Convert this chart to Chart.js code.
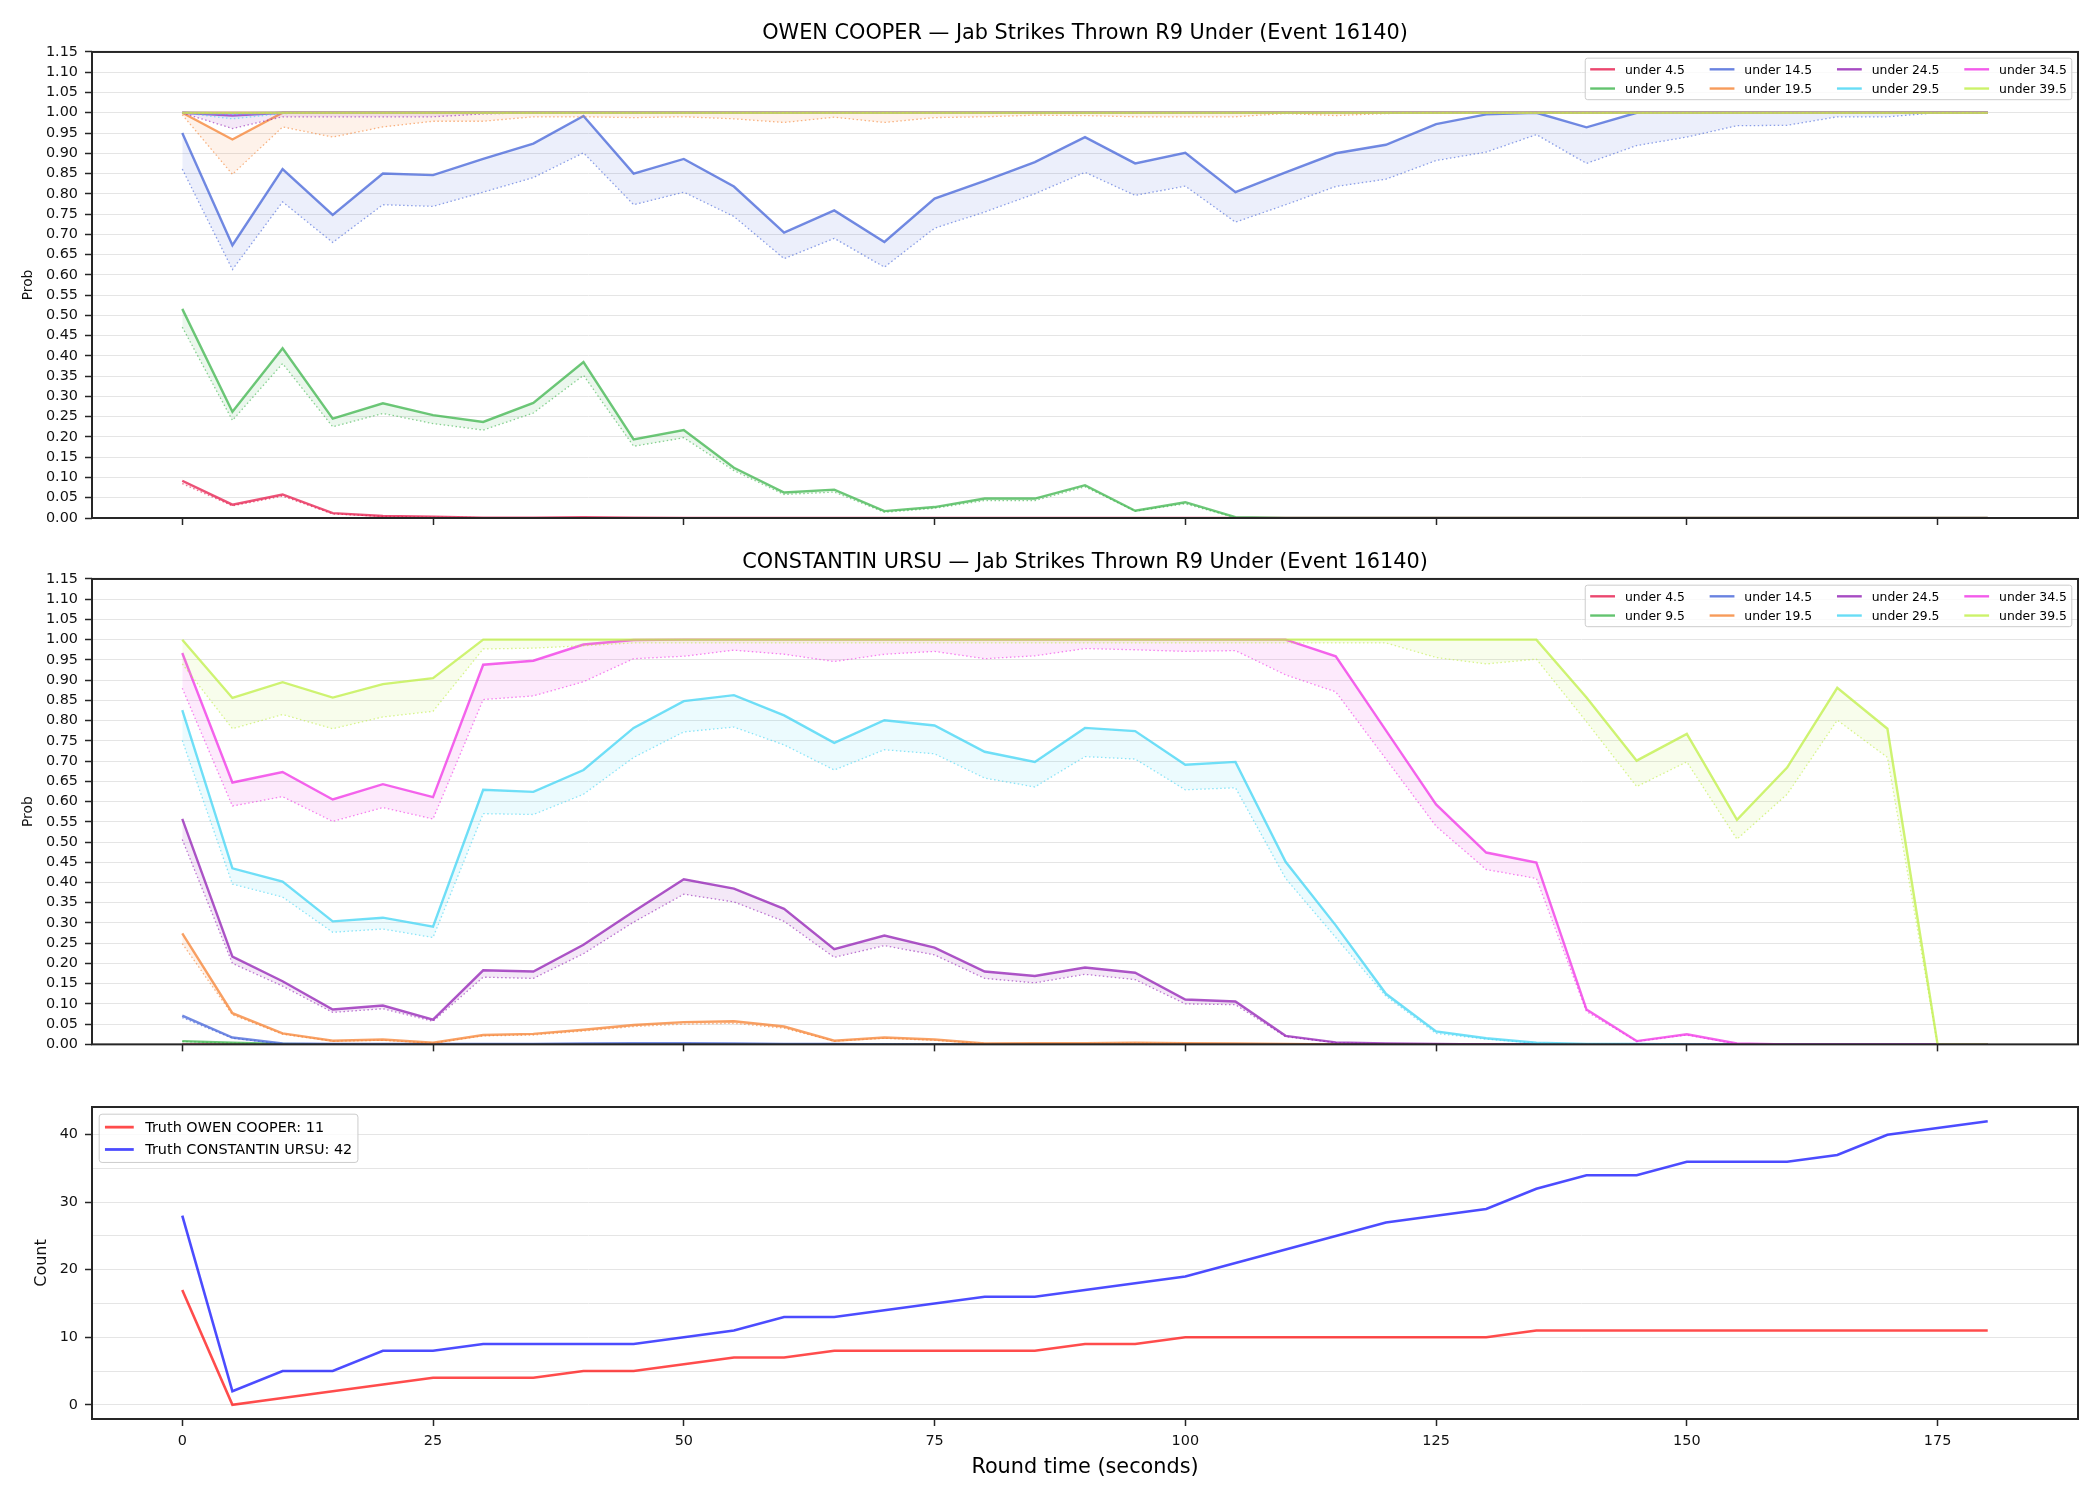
<!DOCTYPE html>
<html>
<head>
<meta charset="utf-8">
<script src="https://cdn.jsdelivr.net/npm/chart.js@4.4.1/dist/chart.umd.min.js"></script>
<style>
  body { margin: 0; background: #fff; }
  #wrap { position: relative; width: 2100px; height: 1500px; }
  canvas { position: absolute; left: 0; }
</style>
</head>
<body>
<div id="wrap">
  <canvas id="owen" width="2100" height="540" style="top:0px"></canvas>
  <canvas id="ursu" width="2100" height="520" style="top:540px"></canvas>
  <canvas id="truth" width="2100" height="440" style="top:1060px"></canvas>
</div>
<script>
let seconds = [0,5,10,15,20,25,30,35,40,45, 50,55,60,65,70,75,80,85,90,95,
  100,105,110,115,120,125,130,135,140,145, 150,155,160,165,170,175,180];
let xTicks = [0,25,50,75,100,125,150,175];
let probTicks = [0,0.05,0.1,0.15,0.2,0.25,0.3,0.35,0.4,0.45,0.5,0.55,0.6,0.65,0.7,0.75,0.8,0.85,0.9,0.95,1,1.05,1.1,1.15];
let countGrid = [0,5,10,15,20,25,30,35,40];
let lines = ['under 4.5','under 9.5','under 14.5','under 19.5','under 24.5','under 29.5','under 34.5','under 39.5'];
let colours = ['#e6194b','#3cb44b','#4363d8','#f58231','#911eb4','#42d4f4','#f032e6','#bfef45'];

// OWEN COOPER: solid line and dotted lower line for each threshold
let owenU4 = [0.092,0.033,0.058,0.012,0.005,0.003,0.001,0.001,0.002,0.001, 0,0,0,0,0,0,0,0,0,0, 0,0,0,0,0,0,0,0,0,0, 0,0,0,0,0,0,0];
let owenU4Lo = [0.085,0.030,0.054,0.010,0.004,0.002,0.001,0.001,0.001,0, 0,0,0,0,0,0,0,0,0,0, 0,0,0,0,0,0,0,0,0,0, 0,0,0,0,0,0,0];
let owenU9 = [0.516,0.262,0.419,0.245,0.283,0.254,0.237,0.284,0.385,0.194,
  0.217,0.124,0.063,0.070,0.017,0.027,0.048,0.048,0.081,0.018,
  0.039,0.002,0,0,0,0,0,0,0,0, 0,0,0,0,0,0,0];
let owenU9Lo = [0.471,0.241,0.381,0.225,0.258,0.233,0.217,0.259,0.352,0.177,
  0.198,0.117,0.058,0.064,0.014,0.024,0.043,0.043,0.077,0.017,
  0.035,0.001,0,0,0,0,0,0,0,0, 0,0,0,0,0,0,0];
let owenU14 = [0.950,0.673,0.861,0.748,0.850,0.846,0.886,0.924,0.992,0.850,
  0.886,0.818,0.704,0.759,0.681,0.788,0.832,0.878,0.940,0.875,
  0.901,0.804,0.853,0.900,0.921,0.972,0.996,1,0.964,1,
  1,1,1,1,1,1,1];
let owenU14Lo = [0.861,0.613,0.780,0.680,0.773,0.769,0.804,0.840,0.901,0.773,
  0.804,0.744,0.640,0.690,0.619,0.715,0.755,0.800,0.853,0.796,
  0.819,0.730,0.773,0.818,0.836,0.882,0.903,0.946,0.875,0.919,
  0.940,0.968,0.969,0.990,0.990,1,1];
let owenU19 = [1,0.934,1,1,1,1,1,1,1,1, 1,1,1,1,1,1,1,1,1,1, 1,1,1,1,1,1,1,1,1,1, 1,1,1,1,1,1,1];
let owenU19Lo = [0.995,0.848,0.965,0.940,0.965,0.979,0.979,0.990,0.990,0.988,
  0.990,0.985,0.976,0.989,0.976,0.988,0.990,0.994,0.993,0.990,
  0.990,0.990,0.998,0.993,0.998,1,1,1,1,1, 1,1,1,1,1,1,1];
let owenU24 = [1,0.993,1,1,1,1,1,1,1,1, 1,1,1,1,1,1,1,1,1,1, 1,1,1,1,1,1,1,1,1,1, 1,1,1,1,1,1,1];
let owenU24Lo = [1,0.961,0.990,0.990,0.990,0.990,0.997,1,1,1, 1,1,1,1,1,1,1,1,1,1, 1,1,1,1,1,1,1,1,1,1, 1,1,1,1,1,1,1];
let owenU29 = [1,0.998,1,1,1,1,1,1,1,1, 1,1,1,1,1,1,1,1,1,1, 1,1,1,1,1,1,1,1,1,1, 1,1,1,1,1,1,1];
let owenU29Lo = [1,0.985,0.998,1,1,1,1,1,1,1, 1,1,1,1,1,1,1,1,1,1, 1,1,1,1,1,1,1,1,1,1, 1,1,1,1,1,1,1];
let owenU34 = [1,1,1,1,1,1,1,1,1,1, 1,1,1,1,1,1,1,1,1,1, 1,1,1,1,1,1,1,1,1,1, 1,1,1,1,1,1,1];
let owenU34Lo = [1,0.995,1,1,1,1,1,1,1,1, 1,1,1,1,1,1,1,1,1,1, 1,1,1,1,1,1,1,1,1,1, 1,1,1,1,1,1,1];
let owenU39 = [1,1,1,1,1,1,1,1,1,1, 1,1,1,1,1,1,1,1,1,1, 1,1,1,1,1,1,1,1,1,1, 1,1,1,1,1,1,1];
let owenU39Lo = [1,1,1,1,1,1,1,1,1,1, 1,1,1,1,1,1,1,1,1,1, 1,1,1,1,1,1,1,1,1,1, 1,1,1,1,1,1,1];

// CONSTANTIN URSU
let ursuU4 = [0,0,0,0,0,0,0,0,0,0, 0,0,0,0,0,0,0,0,0,0, 0,0,0,0,0,0,0,0,0,0, 0,0,0,0,0,0,0];
let ursuU4Lo = [0,0,0,0,0,0,0,0,0,0, 0,0,0,0,0,0,0,0,0,0, 0,0,0,0,0,0,0,0,0,0, 0,0,0,0,0,0,0];
let ursuU9 = [0.008,0.004,0.001,0,0,0,0,0,0,0, 0,0,0,0,0,0,0,0,0,0, 0,0,0,0,0,0,0,0,0,0, 0,0,0,0,0,0,0];
let ursuU9Lo = [0.007,0.003,0.001,0,0,0,0,0,0,0, 0,0,0,0,0,0,0,0,0,0, 0,0,0,0,0,0,0,0,0,0, 0,0,0,0,0,0,0];
let ursuU14 = [0.071,0.017,0.002,0.001,0.001,0.001,0.001,0.001,0.002,0.003,
  0.003,0.002,0.001,0.001,0,0,0,0,0,0, 0,0,0,0,0,0,0,0,0,0, 0,0,0,0,0,0,0];
let ursuU14Lo = [0.066,0.015,0.001,0,0,0,0,0,0,0.001, 0.001,0.001,0,0,0,0,0,0,0,0, 0,0,0,0,0,0,0,0,0,0, 0,0,0,0,0,0,0];
let ursuU19 = [0.274,0.077,0.027,0.009,0.012,0.004,0.023,0.026,0.036,0.048,
  0.055,0.057,0.044,0.009,0.017,0.012,0.002,0.003,0.003,0.004,
  0.003,0.002,0.001,0,0,0,0,0,0,0, 0,0,0,0,0,0,0];
let ursuU19Lo = [0.249,0.073,0.025,0.008,0.010,0.003,0.021,0.023,0.033,0.044,
  0.050,0.052,0.040,0.008,0.015,0.010,0.002,0.002,0.002,0.003,
  0.002,0.001,0.001,0,0,0,0,0,0,0, 0,0,0,0,0,0,0];
let ursuU24 = [0.557,0.217,0.156,0.086,0.096,0.061,0.183,0.180,0.246,0.328,
  0.408,0.385,0.335,0.235,0.269,0.239,0.180,0.169,0.190,0.177,
  0.111,0.106,0.021,0.005,0.002,0.001,0,0,0,0, 0,0,0,0,0,0,0];
let ursuU24Lo = [0.506,0.200,0.144,0.079,0.088,0.057,0.166,0.163,0.224,0.302,
  0.371,0.352,0.304,0.215,0.244,0.221,0.163,0.152,0.173,0.160,
  0.100,0.098,0.019,0.004,0.001,0.001,0,0,0,0, 0,0,0,0,0,0,0];
let ursuU29 = [0.826,0.435,0.402,0.304,0.313,0.291,0.629,0.624,0.678,0.782,
  0.848,0.863,0.813,0.745,0.801,0.788,0.723,0.698,0.782,0.774,
  0.691,0.698,0.451,0.294,0.125,0.032,0.015,0.004,0.001,0.001,
  0,0,0,0,0,0,0];
let ursuU29Lo = [0.751,0.396,0.364,0.277,0.285,0.264,0.570,0.568,0.618,0.709,
  0.772,0.784,0.740,0.678,0.728,0.718,0.658,0.636,0.711,0.705,
  0.629,0.634,0.410,0.264,0.119,0.027,0.013,0.003,0.001,0.001,
  0,0,0,0,0,0,0];
let ursuU34 = [0.967,0.647,0.673,0.605,0.643,0.611,0.938,0.948,0.988,0.999,
  1,1,1,1,1,1,1,1,1,1,
  1,1,1,0.959,0.776,0.593,0.474,0.449,0.086,0.008,
  0.025,0.002,0,0,0,0,0];
let ursuU34Lo = [0.880,0.589,0.612,0.551,0.585,0.557,0.852,0.861,0.896,0.953,
  0.959,0.974,0.964,0.946,0.964,0.971,0.953,0.960,0.978,0.975,
  0.971,0.973,0.913,0.871,0.705,0.539,0.432,0.410,0.081,0.007,
  0.023,0.001,0,0,0,0,0];
let ursuU39 = [1,0.856,0.895,0.857,0.890,0.905,1,1,1,1,
  1,1,1,1,1,1,1,1,1,1,
  1,1,1,1,1,1,1,1,0.857,0.701,
  0.767,0.555,0.684,0.881,0.780,0,0];
let ursuU39Lo = [0.940,0.780,0.815,0.780,0.809,0.823,0.977,0.979,0.985,0.992,
  0.992,0.992,0.992,0.992,0.992,0.992,0.992,0.992,0.992,0.992,
  0.992,0.992,0.992,0.992,0.992,0.956,0.940,0.952,0.797,0.637,
  0.698,0.507,0.618,0.801,0.709,0,0];

// running truth counts
let owenTruth = [17,0,1,2,3,4,4,4,5,5, 6,7,7,8,8,8,8,8,9,9, 10,10,10,10,10,10,10,11,11,11, 11,11,11,11,11,11,11];
let ursuTruth = [28,2,5,5,8,8,9,9,9,9, 10,11,13,13,14,15,16,16,17,18, 19,21,23,25,27,28,29,32,34,34, 36,36,36,37,40,41,42];

let owenMain = [owenU4, owenU9, owenU14, owenU19, owenU24, owenU29, owenU34, owenU39];
let owenLow = [owenU4Lo, owenU9Lo, owenU14Lo, owenU19Lo, owenU24Lo, owenU29Lo, owenU34Lo, owenU39Lo];
let ursuMain = [ursuU4, ursuU9, ursuU14, ursuU19, ursuU24, ursuU29, ursuU34, ursuU39];
let ursuLow = [ursuU4Lo, ursuU9Lo, ursuU14Lo, ursuU19Lo, ursuU24Lo, ursuU29Lo, ursuU34Lo, ursuU39Lo];

Chart.defaults.font.family = '"DejaVu Sans", sans-serif';
Chart.defaults.color = '#111';

function rgba(hex, a) {
  let n = parseInt(hex.slice(1), 16);
  return 'rgba(' + (n >> 16) + ',' + ((n >> 8) & 255) + ',' + (n & 255) + ',' + a + ')';
}
function pts(arr) {
  return arr.map((v, i) => ({x: seconds[i], y: v}));
}

function probDatasets(main, low) {
  let ds = [];
  for (let i = 0; i < lines.length; i++) {
    ds.push({
      label: lines[i],
      data: pts(main[i]),
      borderColor: rgba(colours[i], 0.75),
      borderWidth: 2.4,
      backgroundColor: rgba(colours[i], 0.1),
      fill: '+1',
      pointRadius: 0,
      order: 100 - 2 * i
    });
    ds.push({
      label: lines[i] + ' low',
      data: pts(low[i]),
      borderColor: rgba(colours[i], 0.6),
      borderWidth: 1.3,
      borderDash: [1.5, 2.5],
      fill: false,
      pointRadius: 0,
      order: 101 - 2 * i
    });
  }
  return ds;
}

function xAxis(showLabels, height, title) {
  return {
    type: 'linear', min: -9, max: 189,
    afterBuildTicks: s => { s.ticks = xTicks.map(v => ({value: v})); },
    afterFit: s => { s.height = height; },
    grid: { drawOnChartArea: false, drawTicks: true, tickLength: 7, tickColor: '#262626', tickWidth: 1.5 },
    border: { display: false },
    ticks: { display: showLabels, autoSkip: false, padding: 7, font: {size: 14.4}, maxRotation: 0 },
    title: title ? { display: true, text: title, font: {size: 20.8}, color: '#000', padding: {top: 0, bottom: 20} } : { display: false }
  };
}

function probAxis() {
  return {
    min: 0, max: 1.15,
    afterBuildTicks: s => { s.ticks = probTicks.map(v => ({value: v})); },
    afterFit: s => { s.width = 92; },
    grid: { color: '#e5e5e5', lineWidth: 1, tickLength: 7, tickColor: '#262626', tickWidth: 1.5 },
    border: { display: false },
    ticks: { autoSkip: false, padding: 7, font: {size: 14.4}, callback: v => v.toFixed(2) },
    title: { display: true, text: 'Prob', font: {size: 13.8}, padding: {top: 20, bottom: 0} }
  };
}

// axes frame on all four sides
const frame = {
  id: 'frame',
  afterDatasetsDraw(chart) {
    const {ctx, chartArea: a} = chart;
    ctx.save();
    ctx.strokeStyle = '#262626';
    ctx.lineWidth = 2;
    ctx.strokeRect(a.left, a.top, a.right - a.left, a.bottom - a.top);
    ctx.restore();
  }
};

// matplotlib-like boxed legend inside the axes, filled column by column
const boxLegend = {
  id: 'boxLegend',
  afterDraw(chart, args, opts) {
    const items = opts.items;
    if (!items) return;
    const fs = opts.size;
    const ctx = chart.ctx, a = chart.chartArea;
    ctx.save();
    ctx.font = fs + 'px "DejaVu Sans"';
    const rows = opts.rows, cols = Math.ceil(items.length / rows);
    const pad = 0.4 * fs, hl = 2 * fs, htp = 0.8 * fs, cs = 2 * fs, ls = 0.55 * fs;
    let widths = [];
    for (let c = 0; c < cols; c++) {
      let m = 0;
      for (let r = 0; r < rows; r++) {
        const it = items[c * rows + r];
        if (it) m = Math.max(m, ctx.measureText(it.text).width);
      }
      widths.push(hl + htp + m);
    }
    const w = 2 * pad + widths.reduce((s, v) => s + v, 0) + cs * (cols - 1);
    const h = 2 * pad + rows * fs + (rows - 1) * ls;
    const x0 = opts.right ? a.right - 0.5 * fs - w : a.left + 0.5 * fs;
    const y0 = a.top + 0.5 * fs;
    ctx.beginPath();
    ctx.roundRect(x0, y0, w, h, 0.2 * fs);
    ctx.fillStyle = 'rgba(255,255,255,0.8)';
    ctx.fill();
    ctx.strokeStyle = '#cccccc';
    ctx.lineWidth = 1;
    ctx.stroke();
    ctx.textBaseline = 'middle';
    ctx.textAlign = 'left';
    let cx = x0 + pad;
    for (let c = 0; c < cols; c++) {
      for (let r = 0; r < rows; r++) {
        const it = items[c * rows + r];
        if (!it) continue;
        const cy = y0 + pad + fs / 2 + r * (fs + ls);
        ctx.strokeStyle = it.color;
        ctx.lineWidth = opts.lw;
        ctx.beginPath();
        ctx.moveTo(cx, cy);
        ctx.lineTo(cx + hl, cy);
        ctx.stroke();
        ctx.fillStyle = '#000';
        ctx.fillText(it.text, cx + hl + htp, cy + 1);
      }
      cx += widths[c] + cs;
    }
    ctx.restore();
  }
};

let probLegend = lines.map((t, i) => ({text: t, color: rgba(colours[i], 0.8)}));

function probChart(id, name, main, low, titlePad, xHeight) {
  return new Chart(document.getElementById(id), {
    type: 'line',
    data: { datasets: probDatasets(main, low) },
    options: {
      responsive: false, animation: false, devicePixelRatio: 1,
      layout: { padding: { left: 0, right: 22, top: 0, bottom: 0 } },
      plugins: {
        legend: { display: false },
        tooltip: { enabled: false },
        title: { display: true, fullSize: false, text: name + ' — Jab Strikes Thrown R9 Under (Event 16140)',
                 font: {size: 20.8, weight: 'normal'}, color: '#000', padding: titlePad },
        boxLegend: { items: probLegend, rows: 2, size: 12.4, lw: 2.4, right: true }
      },
      scales: { x: xAxis(false, xHeight, null), y: probAxis() }
    },
    plugins: [frame, boxLegend]
  });
}

probChart('owen', 'OWEN COOPER', owenMain, owenLow, {top: 21, bottom: 6}, 22);
probChart('ursu', 'CONSTANTIN URSU', ursuMain, ursuLow, {top: 10, bottom: 4}, 13);

new Chart(document.getElementById('truth'), {
  type: 'line',
  data: {
    datasets: [
      { label: 'Truth OWEN COOPER', data: pts(owenTruth), borderColor: 'rgba(255,0,0,0.7)', borderWidth: 2.6, pointRadius: 0, fill: false },
      { label: 'Truth CONSTANTIN URSU', data: pts(ursuTruth), borderColor: 'rgba(0,0,255,0.7)', borderWidth: 2.6, pointRadius: 0, fill: false }
    ]
  },
  options: {
    responsive: false, animation: false, devicePixelRatio: 1,
    layout: { padding: { left: 0, right: 22, top: 47, bottom: 0 } },
    plugins: {
      legend: { display: false },
      tooltip: { enabled: false },
      boxLegend: {
        items: [
          {text: 'Truth OWEN COOPER: ' + owenTruth[owenTruth.length - 1], color: 'rgba(255,0,0,0.7)'},
          {text: 'Truth CONSTANTIN URSU: ' + ursuTruth[ursuTruth.length - 1], color: 'rgba(0,0,255,0.7)'}
        ],
        rows: 2, size: 14.4, lw: 2.8, right: false
      }
    },
    scales: {
      x: xAxis(true, 81, 'Round time (seconds)'),
      y: {
        min: -2.1, max: 44.1,
        afterBuildTicks: s => { s.ticks = countGrid.map(v => ({value: v})); },
        afterFit: s => { s.width = 92; },
        grid: { color: '#e5e5e5', lineWidth: 1, tickLength: 7, tickWidth: 1.5,
                tickColor: c => (c.tick && c.tick.value % 10 === 0) ? '#262626' : 'rgba(0,0,0,0)' },
        border: { display: false },
        ticks: { autoSkip: false, padding: 7, font: {size: 14.4}, callback: v => v % 10 === 0 ? String(v) : '' },
        title: { display: true, text: 'Count', font: {size: 16}, padding: {top: 32, bottom: 0} }
      }
    }
  },
  plugins: [frame, boxLegend]
});
</script>
</body>
</html>
